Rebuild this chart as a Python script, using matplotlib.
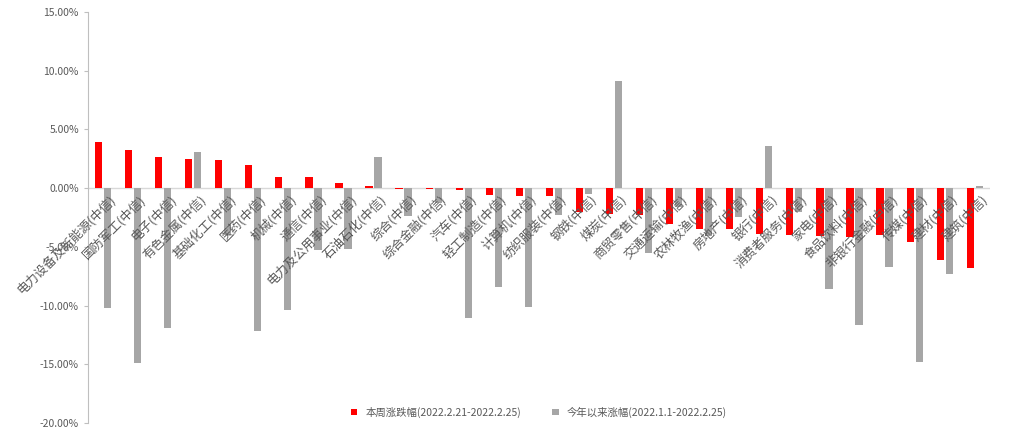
import matplotlib

matplotlib.use("Agg")
import matplotlib.pyplot as plt
import numpy as np

plt.rcParams["font.family"] = ["Noto Sans CJK SC", "DejaVu Sans"]

industries = [
    "电力设备及新能源", "国防军工", "电子", "有色金属", "基础化工", "医药", "机械", "通信",
    "电力及公用事业", "石油石化", "综合", "综合金融", "汽车", "轻工制造", "计算机", "纺织服装",
    "钢铁", "煤炭", "商贸零售", "交通运输", "农林牧渔", "房地产", "银行", "消费者服务",
    "家电", "食品饮料", "非银行金融", "传媒", "建材", "建筑",
]
week_chg = [
    3.94, 3.26, 2.66, 2.49, 2.41, 1.93, 0.96, 0.96, 0.45, 0.14, -0.12, -0.10, -0.20, -0.57, -0.65,
    -0.65, -2.07, -2.2, -2.3, -3.1, -3.5, -3.5, -3.9, -4.0, -4.1, -4.2, -4.0, -4.6, -6.1, -6.8,
]
ytd_chg = [
    -10.25, -14.9, -11.95, 3.09, -4.0, -12.2, -10.4, -5.3, -5.2, 2.66, -2.4, -1.3, -11.1, -8.4, -10.1,
    -2.3, -0.5, 9.1, -5.5, -1.6, -4.1, -2.5, 3.6, -2.0, -8.6, -11.7, -6.7, -14.8, -7.3, 0.2,
]
labels = [f"{name}(中信)" for name in industries]

fig = plt.figure(figsize=(10.11, 4.37), dpi=100)
ax = fig.add_axes([0.087, 0.032, 0.892, 0.941])

x = np.arange(len(industries))
w = 0.24
ax.bar(x - 0.15, week_chg, width=w, color="#ff0000", label="本周涨跌幅(2022.2.21-2022.2.25)", zorder=3)
ax.bar(x + 0.15, ytd_chg, width=w, color="#a6a6a6", label="今年以来涨幅(2022.1.1-2022.2.25)", zorder=3)

ax.set_xlim(-0.5, len(industries) - 0.5)
ax.set_ylim(-20, 15)
ax.set_yticks(np.arange(-20, 16, 5))
ax.set_yticklabels([f"{v:.2f}%" for v in np.arange(-20, 16, 5)], fontsize=7.5, color="#595959")
ax.axhline(0, color="#d9d9d9", lw=1, zorder=2)
ax.set_xticks([])
for s in ["top", "right", "bottom"]:
    ax.spines[s].set_visible(False)
ax.spines["left"].set_color("#bfbfbf")
ax.tick_params(axis="y", length=3, color="#bfbfbf")

for xi, lab in zip(x, labels):
    ax.text(xi + 0.2, -0.4, lab, rotation=45, ha="right", va="top", rotation_mode="anchor",
            fontsize=9, color="#595959", zorder=4)

ax.legend(loc="lower center", bbox_to_anchor=(0.5, -0.01), ncol=2, frameon=False, fontsize=7.5,
          handlelength=0.6, handleheight=0.6, columnspacing=3, labelcolor="#595959")

fig.savefig("out.png", dpi=100)
